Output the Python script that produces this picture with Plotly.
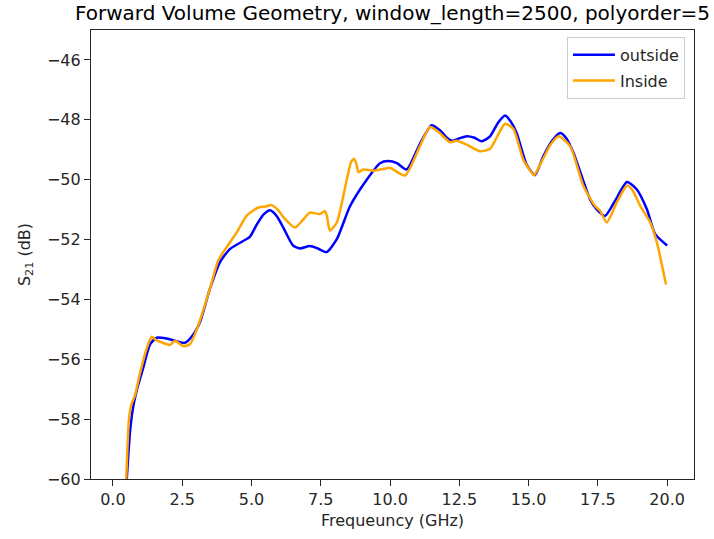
import plotly.graph_objects as go

# Smoothed S21 transmission, forward volume geometry
outside_freq = [0.40, 0.50, 0.62, 0.73, 0.90, 1.09, 1.34, 1.58, 1.90, 2.30, 2.60, 2.84,
                3.14, 3.50, 3.86, 4.22, 4.70, 4.95, 5.19, 5.45, 5.67, 5.90, 6.15, 6.50,
                6.75, 7.10, 7.40, 7.71, 8.08, 8.56, 9.16, 9.64, 9.94, 10.25, 10.60, 11.08,
                11.50, 11.80, 12.05, 12.23, 12.50, 12.77, 13.05, 13.31, 13.61, 13.90, 14.15,
                14.35, 14.57, 14.93, 15.23, 15.53, 15.85, 16.14, 16.35, 16.62, 17.22, 17.46,
                17.76, 18.12, 18.55, 18.90, 19.27, 19.57, 20.00]
outside_s21 = [-61.5, -60.0, -58.4, -57.6, -56.9, -56.3, -55.5, -55.28, -55.3, -55.4, -55.45, -55.25,
               -54.76, -53.65, -52.76, -52.32, -52.05, -51.9, -51.5, -51.15, -51.02, -51.2, -51.6, -52.2,
               -52.3, -52.22, -52.3, -52.42, -51.99, -50.88, -50.0, -49.45, -49.38, -49.45, -49.66, -48.8,
               -48.18, -48.35, -48.6, -48.7, -48.62, -48.55, -48.6, -48.72, -48.55, -48.1, -47.86,
               -48.05, -48.44, -49.5, -49.85, -49.22, -48.7, -48.44, -48.6, -49.1, -50.66, -50.99,
               -51.21, -50.71, -50.08, -50.32, -50.99, -51.82, -52.2]

inside_freq = [0.40, 0.48, 0.58, 0.67, 0.80, 0.97, 1.22, 1.40, 1.58, 1.80, 2.06, 2.24, 2.54, 2.78,
               3.08, 3.50, 3.80, 4.10, 4.47, 4.83, 5.25, 5.50, 5.73, 5.95, 6.15, 6.57, 6.85, 7.11,
               7.47, 7.65, 7.72, 7.83, 8.08, 8.44, 8.60, 8.70, 8.78, 8.86, 9.04, 9.40, 9.88, 10.00,
               10.54, 11.08, 11.44, 11.74, 12.17, 12.40, 12.77, 13.25, 13.61, 13.90, 14.15, 14.45,
               14.81, 15.12, 15.20, 15.48, 15.78, 16.08, 16.50, 16.98, 17.40, 17.58, 17.82, 18.18,
               18.55, 18.75, 19.03, 19.39, 19.63, 19.96]
inside_s21 = [-61.5, -60.0, -58.0, -57.5, -57.2, -56.5, -55.64, -55.25, -55.37, -55.45, -55.52, -55.38,
              -55.56, -55.5, -54.87, -53.65, -52.7, -52.26, -51.76, -51.2, -50.93, -50.9, -50.85, -51.0,
              -51.25, -51.6, -51.35, -51.1, -51.15, -51.05, -51.2, -51.7, -51.43, -50.0, -49.4, -49.3,
              -49.45, -49.75, -49.66, -49.7, -49.62, -49.6, -49.86, -48.88, -48.24, -48.4, -48.75, -48.7,
              -48.83, -49.05, -48.97, -48.5, -48.13, -48.3, -49.33, -49.77, -49.85, -49.38, -48.85,
              -48.55, -48.88, -50.21, -50.88, -51.04, -51.43, -50.77, -50.2, -50.35, -50.88, -51.43,
              -52.1, -53.5]

x_ticks = [0.0, 2.5, 5.0, 7.5, 10.0, 12.5, 15.0, 17.5, 20.0]
y_ticks = [-60, -58, -56, -54, -52, -50, -48, -46]

fig = go.Figure()
fig.add_trace(go.Scatter(x=outside_freq, y=outside_s21, mode="lines", name="outside",
                         legendgroup="outside",
                         line=dict(color="#0000ff", width=2.5, shape="spline", smoothing=0.6)))
fig.add_trace(go.Scatter(x=inside_freq, y=inside_s21, mode="lines", name="Inside",
                         legendgroup="inside",
                         line=dict(color="#ffa500", width=2.5, shape="spline", smoothing=0.6)))

axis_common = dict(showline=True, mirror=True, linecolor="#262626", linewidth=1.3,
                   ticks="outside", ticklen=6, tickwidth=1.3, tickcolor="#262626",
                   showgrid=False, zeroline=False,
                   tickfont=dict(family="DejaVu Sans", size=16, color="#262626"))

fig.update_xaxes(range=[-0.79, 20.97], tickvals=x_ticks,
                 ticktext=[f"{v:.1f}" for v in x_ticks],
                 title=dict(text="Frequeuncy (GHz)", standoff=6,
                            font=dict(family="DejaVu Sans", size=16, color="#262626")),
                 **axis_common)
fig.update_yaxes(range=[-60, -45], tickvals=y_ticks,
                 ticktext=[f"\u2212{abs(v)}" for v in y_ticks],
                 title=dict(text="S<sub>21</sub> (dB)", standoff=12,
                            font=dict(family="DejaVu Sans", size=16, color="#262626")),
                 **axis_common)

fig.update_layout(
    width=714, height=539,
    margin=dict(l=91, r=20, t=30, b=58),
    plot_bgcolor="white", paper_bgcolor="white",
    font=dict(family="DejaVu Sans", size=16, color="#262626"),
    title=dict(text="Forward Volume Geometry, window_length=2500, polyorder=5",
               x=0.5, xref="paper", xanchor="center",
               y=1 - 13 / 539, yref="container", yanchor="middle",
               font=dict(family="DejaVu Sans", size=20, color="#000000")),
    legend=dict(x=0.985, y=0.985, xanchor="right", yanchor="top",
                itemwidth=42, tracegroupgap=2,
                bgcolor="rgba(255,255,255,0.8)", bordercolor="#cccccc", borderwidth=1,
                font=dict(family="DejaVu Sans", size=16, color="#262626")),
    showlegend=True,
)

fig.write_html("out.html")
